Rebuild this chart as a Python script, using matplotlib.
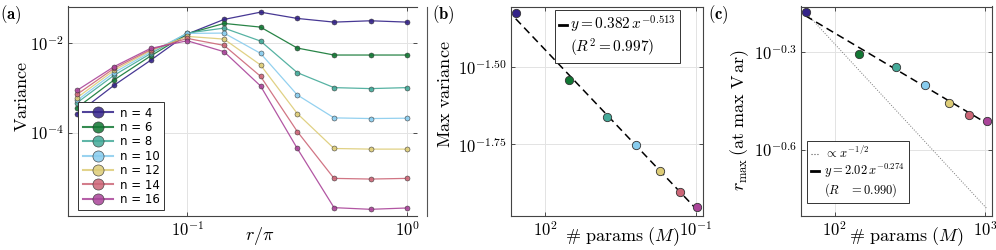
import numpy as np
import matplotlib
matplotlib.use('Agg')
import matplotlib.pyplot as plt
from matplotlib.lines import Line2D

plt.rcParams['font.family'] = 'serif'
plt.rcParams['font.serif'] = ['cmr10', 'DejaVu Serif']
plt.rcParams['mathtext.fontset'] = 'cm'
plt.rcParams['axes.formatter.use_mathtext'] = True

# ---- data ----
qubits = [4, 6, 8, 10, 12, 14, 16]
colors = ['#332288', '#117733', '#44AA99', '#88CCEE', '#DDCC77', '#CC6677', '#AA4499']

# panel (a): log10 of r/pi and log10 of variance
log_r = [-1.5, -1.333, -1.167, -1.0, -0.833, -0.667, -0.5, -0.333, -0.167, 0.0]
log_var = {
    4:  [-3.578, -2.949, -2.393, -1.807, -1.481, -1.319, -1.459, -1.541, -1.511, -1.541],
    6:  [-3.444, -2.830, -2.297, -1.800, -1.570, -1.652, -2.119, -2.274, -2.274, -2.274],
    8:  [-3.333, -2.726, -2.244, -1.785, -1.674, -1.963, -2.667, -3.000, -3.022, -3.000],
    10: [-3.282, -2.667, -2.208, -1.793, -1.785, -2.237, -3.163, -3.674, -3.689, -3.681],
    12: [-3.222, -2.615, -2.178, -1.859, -1.919, -2.496, -3.578, -4.356, -4.370, -4.370],
    14: [-3.148, -2.571, -2.156, -1.904, -2.059, -2.748, -3.978, -5.022, -5.037, -5.022],
    16: [-3.059, -2.533, -2.127, -1.956, -2.200, -2.963, -4.356, -5.674, -5.711, -5.681],
}

# panels (b), (c)
n_params = [64, 144, 256, 400, 576, 784, 1024]
log_max_var = [-1.326, -1.543, -1.661, -1.753, -1.836, -1.902, -1.951]
log_r_max = [-0.179, -0.308, -0.346, -0.402, -0.457, -0.495, -0.512]
fit_b = (0.382, -0.513)
fit_c = (2.02, -0.274)

W, H = 996, 250
fig = plt.figure(figsize=(W / 100, H / 100), dpi=100)
bot, top = 1 - 216 / H, 1 - 6.5 / H
axa = fig.add_axes([68 / W, bot, 349 / W, top - bot])
axb = fig.add_axes([511 / W, bot, 191.7 / W, top - bot])
axc = fig.add_axes([801 / W, bot, 191 / W, top - bot])

def style(ax):
    ax.set_xscale('log')
    ax.set_yscale('log')
    ax.minorticks_off()
    ax.tick_params(direction='in', top=True, right=True, length=3, width=0.6,
                   color='#333333', labelsize=12, pad=3)
    ax.grid(True, color='#e3e3e3', lw=0.7)
    ax.set_axisbelow(True)
    for s in ax.spines.values():
        s.set_color('#444444')
        s.set_linewidth(0.8)

# ---- (a) ----
style(axa)
r = 10 ** np.array(log_r)
for n, c in zip(qubits, colors):
    axa.plot(r, 10 ** np.array(log_var[n]), '-o', color=c, lw=0.9, ms=3.6,
             mec='#333333', mew=0.4, alpha=0.9, label=f'n = {n}')
axa.set_xlim(10 ** -1.542, 10 ** 0.044)
axa.set_ylim(10 ** -5.86, 10 ** -1.193)
axa.set_xticks([0.1, 1.0])
axa.set_yticks([1e-4, 1e-2])
axa.minorticks_off()
axa.spines['right'].set_visible(False)
axa.set_ylabel(r'$\mathrm{Variance}$', fontsize=13)
axa.yaxis.set_label_coords(-0.11, 0.57)
axa.set_xlabel(r'$r/\pi$', fontsize=13)
axa.xaxis.set_label_coords(0.55, -0.045)
handles = [Line2D([], [], color=c, lw=1.5, marker='o', ms=8, mec='#333333', mew=0.5,
                  alpha=0.85) for c in colors]
leg = axa.legend(handles, [f'n = {n}' for n in qubits], loc='lower left',
                 bbox_to_anchor=(0.03, 0.028), borderaxespad=0,
                 prop={'family': 'DejaVu Sans', 'size': 8.5}, fancybox=False,
                 framealpha=1, edgecolor='#333333', handlelength=2.6,
                 labelspacing=0.12, handletextpad=0.6, borderpad=0.35)
leg.get_frame().set_linewidth(0.7)
fig.add_artist(Line2D([427 / W, 427 / W], [bot, top], color='#555555', lw=0.8))
fig.text(0.0, 1 - 15 / H, r'$\mathbf{(a)}$', fontsize=12, va='center')

# ---- (b) ----
style(axb)
xp = np.array(n_params, dtype=float)
axb.plot(xp, fit_b[0] * xp ** fit_b[1], '--', color='black', lw=1.1, dashes=(5, 3))
for x, y, c in zip(n_params, log_max_var, colors):
    axb.plot(x, 10 ** y, 'o', color=c, ms=6, mec='#333333', mew=0.6)
axb.set_xlim(10 ** 1.775, 10 ** 3.046)
axb.set_ylim(10 ** -1.981, 10 ** -1.305)
axb.set_xticks([100, 1000])
axb.set_xticklabels([r'$10^{2}$', r'$10^{-1}$'])
axb.set_yticks([10 ** -1.75, 10 ** -1.5])
axb.set_yticklabels([r'$10^{-1.75}$', r'$10^{-1.50}$'])
axb.minorticks_off()
axb.set_ylabel(r'$\mathrm{Max\ variance}$', fontsize=13)
axb.yaxis.set_label_coords(-0.30, 0.58)
axb.set_xlabel(r'$\#\ \mathrm{params}\ (M)$', fontsize=13)
axb.xaxis.set_label_coords(0.58, -0.045)
hb = [Line2D([], [], color='black', lw=2), Line2D([], [], alpha=0)]
leg = axb.legend(hb, [r'$y = 0.382\,x^{-0.513}$', r'$(R^2 = 0.997)$'],
                 loc='upper left', bbox_to_anchor=(0.23, 0.981), borderaxespad=0,
                 fontsize=11, fancybox=False, framealpha=1, edgecolor='#333333',
                 handlelength=0.5, handletextpad=0.25, labelspacing=0.1,
                 borderpad=0.25)
leg.get_frame().set_linewidth(0.7)
fig.text(432 / W, 1 - 15 / H, r'$\mathbf{(b)}$', fontsize=12, va='center')

# ---- (c) ----
style(axc)
y0 = 10 ** log_r_max[0]
axc.plot(xp, y0 * (xp / xp[0]) ** -0.5, ':', color='#777777', lw=0.7)
axc.plot(xp, fit_c[0] * xp ** fit_c[1], '--', color='black', lw=1.1, dashes=(5, 3))
for x, y, c in zip(n_params, log_r_max, colors):
    axc.plot(x, 10 ** y, 'o', color=c, ms=6, mec='#333333', mew=0.6)
axc.set_xlim(10 ** 1.776, 10 ** 3.045)
axc.set_ylim(10 ** -0.804, 10 ** -0.161)
axc.set_xticks([100, 1000])
axc.set_xticklabels([r'$10^{2}$', r'$10^{3}$'])
axc.set_yticks([10 ** -0.6, 10 ** -0.3])
axc.set_yticklabels([r'$10^{-0.6}$', r'$10^{-0.3}$'])
axc.minorticks_off()
axc.set_ylabel(r'$r_{\max}\,(\mathrm{at\ max\ V\,ar})$', fontsize=13)
axc.yaxis.set_label_coords(-0.26, 0.46)
axc.set_xlabel(r'$\#\ \mathrm{params}\ (M)$', fontsize=13)
axc.xaxis.set_label_coords(0.55, -0.045)
hc = [Line2D([], [], color='#555555', ls=':', lw=0.8),
      Line2D([], [], color='black', lw=2), Line2D([], [], alpha=0)]
leg = axc.legend(hc, [r'$\propto\, x^{-1/2}$', r'$y = 2.02\,x^{-0.274}$',
                      r'$(R\ \ \ = 0.990)$'],
                 loc='lower left', bbox_to_anchor=(0.031, 0.062), borderaxespad=0,
                 fontsize=9, fancybox=False, framealpha=1, edgecolor='#333333',
                 handlelength=0.7, handletextpad=0.4, labelspacing=0.1,
                 borderpad=0.3)
leg.get_frame().set_linewidth(0.7)
fig.text(708 / W, 1 - 15 / H, r'$\mathbf{(c)}$', fontsize=12, va='center')

fig.savefig('out.png', dpi=100)
